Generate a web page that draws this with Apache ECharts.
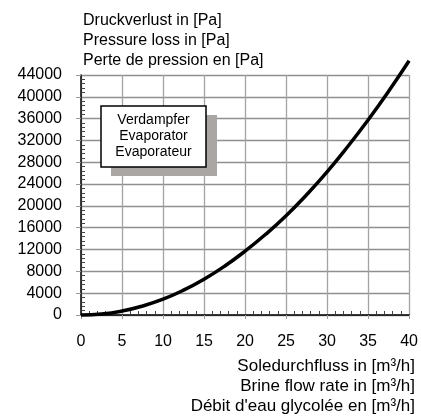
<!DOCTYPE html>
<html>
<head>
<meta charset="utf-8">
<script src="https://cdn.jsdelivr.net/npm/echarts@6/dist/echarts.min.js"></script>
<style>
html,body{margin:0;padding:0;background:#fff;}
#c{width:421px;height:420px;}
</style>
</head>
<body>
<div id="c"></div>
<script>
// Data
var flowRate = [0, 2.5, 5, 7.5, 10, 12.5, 15, 17.5, 20, 22.5, 25, 27.5, 30, 32.5, 35, 37.5, 40];
var pressureLoss = [0, 180, 730, 1640, 2900, 4550, 6570, 8950, 11700, 14780, 18200, 22050, 26250, 30850, 35750, 41000, 46600];
var yTitleLines = ['Druckverlust in [Pa]', 'Pressure loss in [Pa]', 'Perte de pression en [Pa]'];
var xTitleLines = ['Soledurchfluss in [m\u00b3/h]', 'Brine flow rate in [m\u00b3/h]', 'D\u00e9bit d\'eau glycol\u00e9e en [m\u00b3/h]'];
var legendLines = ['Verdampfer', 'Evaporator', 'Evaporateur'];
var xMin = 0, xMax = 40, xStep = 5;
var yMin = 0, yMax = 44000, yStep = 4000;

var FONT = '"Liberation Sans", Arial, sans-serif';
var chart = echarts.init(document.getElementById('c'));

var pts = flowRate.map(function (x, i) { return [x, pressureLoss[i]]; });
var plain = function (v) { return String(v); };

var option = {
  animation: false,
  backgroundColor: '#fff',
  grid: { left: 81, right: 9, top: 75, bottom: 105, containLabel: false },
  xAxis: [{
    type: 'value', position: 'bottom', min: xMin, max: xMax, interval: xStep,
    axisLine: { show: true, lineStyle: { color: '#000', width: 1.5 } },
    axisTick: { show: true, length: 4, lineStyle: { color: '#999' } },
    axisLabel: { color: '#000', fontSize: 16, fontFamily: FONT, margin: 19, formatter: plain },
    splitLine: { show: true, lineStyle: { color: '#a3a3a3', width: 1.3 } }
  }, {
    type: 'value', position: 'bottom', min: xMin, max: xMax, interval: xStep,
    axisLine: { show: false },
    axisTick: { show: false, inside: true },
    minorTick: { show: true, splitNumber: 5, length: 4, lineStyle: { color: '#444' } },
    axisLabel: { show: false },
    splitLine: { show: false }
  }],
  yAxis: [{
    type: 'value', position: 'left', min: yMin, max: yMax, interval: yStep,
    axisLine: { show: true, lineStyle: { color: '#000', width: 1.5 } },
    axisTick: { show: true, length: 5, lineStyle: { color: '#999' } },
    axisLabel: { color: '#000', fontSize: 16, fontFamily: FONT, margin: 19, formatter: plain },
    splitLine: { show: true, lineStyle: { color: '#8f8f8f', width: 1.3 } }
  }, {
    type: 'value', position: 'left', min: yMin, max: yMax, interval: yStep,
    axisLine: { show: false },
    axisTick: { show: false, inside: true },
    minorTick: { show: true, splitNumber: 5, length: 4, lineStyle: { color: '#444' } },
    axisLabel: { show: false },
    splitLine: { show: false }
  }],
  series: [{
    type: 'line',
    xAxisIndex: 0, yAxisIndex: 0,
    data: pts,
    smooth: true,
    showSymbol: false,
    clip: false,
    lineStyle: { color: '#000', width: 3.5 },
    z: 5
  }],
  graphic: [
    // y axis title
    { type: 'text', x: 83, y: 11, style: { text: yTitleLines.join('\n'), font: '16px ' + FONT, fill: '#000', lineHeight: 20 } },
    // x axis title (right aligned)
    { type: 'text', x: 415, y: 356, style: { text: xTitleLines.join('\n'), font: '17px ' + FONT, fill: '#000', lineHeight: 20, align: 'right' } },
    // legend shadow
    { type: 'rect', shape: { x: 111, y: 115, width: 106, height: 61 }, style: { fill: '#a9a6a3' }, z: 10 },
    // legend box
    { type: 'rect', shape: { x: 101, y: 106, width: 105, height: 61 }, style: { fill: '#fff', stroke: '#000', lineWidth: 1.5 }, z: 11 },
    { type: 'text', x: 153.5, y: 112, style: { text: legendLines.join('\n'), font: '14px ' + FONT, fill: '#000', lineHeight: 16, align: 'center' }, z: 12 }
  ]
};
chart.setOption(option);
</script>
</body>
</html>
